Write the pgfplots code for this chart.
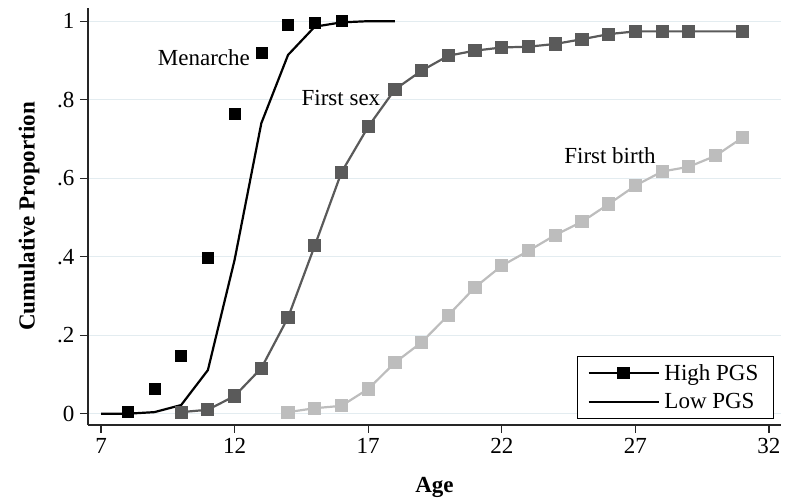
\documentclass[border=0pt]{standalone}
\usepackage{pgfplots}
\pgfplotsset{compat=1.18}
\usepackage{fontspec}
\setmainfont{Liberation Serif}
\definecolor{sexgray}{HTML}{5A5A5A}
\definecolor{birthgray}{HTML}{BDBDBD}
\definecolor{gridc}{HTML}{E3ECF0}
\begin{document}
\begin{tikzpicture}
\begin{axis}[
  scale only axis,
  width=693pt, height=417pt,
  xmin=6.513, xmax=32.45,
  ymin=-0.0288, ymax=1.0336,
  axis lines*=left,
  axis line style={line width=1.2pt, color=black!85},
  xtick={7,12,17,22,27,32},
  xticklabels={7,12,17,22,27,32},
  ytick={0,0.2,0.4,0.6,0.8,1},
  yticklabels={0,.2,.4,.6,.8,1},
  tick align=outside,
  major tick length=8pt,
  tick style={line width=1.2pt, color=black!85},
  ymajorgrids,
  grid style={line width=1.2pt, color=gridc},
  tick label style={font=\fontsize{23}{27}\selectfont},
  xticklabel style={yshift=-2pt},
  yticklabel style={xshift=-2pt},
  label style={font=\fontsize{23}{27}\selectfont\bfseries},
  xlabel={Age},
  ylabel={Cumulative Proportion},
  xlabel style={at={(0.5,0)}, anchor=center, yshift=-62pt},
  ylabel style={at={(0,0.5)}, anchor=center, rotate=0, yshift=59pt},
  clip=false,
  legend style={at={(1,0)}, anchor=south east, xshift=-7pt, yshift=6pt,
    draw=black, line width=1.2pt, font=\fontsize{23}{27}\selectfont,
    inner xsep=10pt, inner ysep=6pt, row sep=8pt, cells={anchor=west},
    nodes={inner xsep=5pt}},
  legend cell align=left,
  legend image code/.code={\draw[mark repeat=2,mark phase=2,#1] plot coordinates {(0pt,0pt) (35pt,0pt) (70pt,0pt)};},
]
\addlegendimage{black, line width=1.6pt, mark=square*, mark size=5.5pt}
\addlegendentry{High PGS}
\addlegendimage{black, line width=1.6pt}
\addlegendentry{Low PGS}
% First birth
\addplot[birthgray, line width=2.2pt, mark=square*, mark size=5.5pt, forget plot] coordinates {
(14,0.004) (15,0.014) (16,0.020) (17,0.063) (18,0.130) (19,0.182) (20,0.251)
(21,0.322) (22,0.377) (23,0.415) (24,0.455) (25,0.489) (26,0.534) (27,0.581)
(28,0.617) (29,0.629) (30,0.657) (31,0.703)};
% First sex
\addplot[sexgray, line width=2.2pt, mark=square*, mark size=5.5pt, forget plot] coordinates {
(10,0.004) (11,0.010) (12,0.045) (13,0.116) (14,0.245) (15,0.428) (16,0.615)
(17,0.731) (18,0.826) (19,0.874) (20,0.912) (21,0.925) (22,0.933) (23,0.935)
(24,0.942) (25,0.954) (26,0.967) (27,0.974) (28,0.974) (29,0.974) (31,0.974)};
% Menarche low PGS
\addplot[black, line width=2.2pt, no marks, forget plot] coordinates {
(7,0) (8,0.0) (9,0.004) (10,0.022) (11,0.111) (12,0.392) (13,0.740)
(14,0.914) (15,0.986) (16,0.997) (17,1.0) (18,1.0)};
% Menarche high PGS
\addplot[only marks, black, mark=square*, mark size=5.5pt, forget plot] coordinates {
(8,0.004) (9,0.064) (10,0.149) (11,0.397) (12,0.764) (13,0.920) (14,0.990)
(15,0.995) (16,1.0)};
\node[font=\fontsize{23}{27}\selectfont] at (axis cs:10.85,0.906) {Menarche};
\node[font=\fontsize{23}{27}\selectfont] at (axis cs:15.98,0.804) {First sex};
\node[font=\fontsize{23}{27}\selectfont] at (axis cs:26.05,0.657) {First birth};
\end{axis}
\pgfresetboundingbox
\path ([shift={(-88pt,-75pt)}]current axis.south west) rectangle ([shift={(4pt,8pt)}]current axis.north east);
\end{tikzpicture}
\end{document}
